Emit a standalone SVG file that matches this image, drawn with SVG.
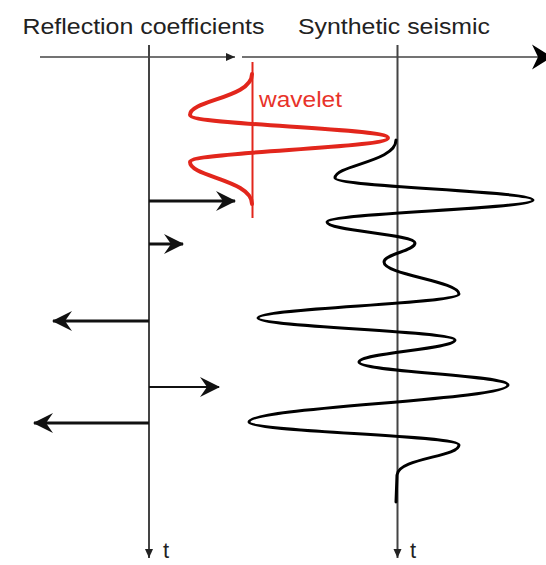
<svg xmlns="http://www.w3.org/2000/svg" width="546" height="565" viewBox="0 0 546 565">
<style>
.lbl{font-family:"Liberation Sans",Arial,sans-serif;font-size:22px;fill:#222}
.red{fill:#e8332a}
.axis{stroke:#444;stroke-width:2;fill:none}
.rc{stroke:#111;stroke-width:3;fill:none}
.trace{stroke:#000;stroke-width:3;fill:none;stroke-linejoin:round;stroke-linecap:round}
.wav{stroke:#e2261c;stroke-width:4;fill:none;stroke-linecap:round}
</style>
<defs>
<marker id="rcHead" markerUnits="userSpaceOnUse" markerWidth="24" markerHeight="24" viewBox="-22 -12 24 24" refX="0" refY="0" orient="auto">
<path d="M1,0 L-19,-10 L-12,0 L-19,10 Z" fill="#111"/>
</marker>
<marker id="smallHead" markerUnits="userSpaceOnUse" markerWidth="12" markerHeight="12" viewBox="-11 -6 12 12" refX="0" refY="0" orient="auto">
<path d="M0,0 L-9,-4 L-9,4 Z" fill="#222"/>
</marker>
<marker id="bigHead" markerUnits="userSpaceOnUse" markerWidth="24" markerHeight="28" viewBox="-22 -14 24 28" refX="0" refY="0" orient="auto">
<path d="M0,0 L-20,-12.5 L-14,0 L-20,12.5 Z" fill="#000"/>
</marker>
</defs>
<g id="titles">
<text class="lbl" x="22.5" y="34" textLength="242" lengthAdjust="spacingAndGlyphs">Reflection coefficients</text>
<text class="lbl" x="298" y="34" textLength="192" lengthAdjust="spacingAndGlyphs">Synthetic seismic</text>
<text class="lbl" x="163" y="558">t</text>
<text class="lbl" x="410" y="558">t</text>
</g>
<g id="connectors">
<line class="axis" x1="40" y1="57" x2="235" y2="57" style="stroke-width:1.6" marker-end="url(#smallHead)"/>
<line class="axis" x1="242" y1="57" x2="552" y2="57" style="stroke-width:1.6" marker-end="url(#bigHead)"/>
<line class="axis" x1="149" y1="45" x2="149" y2="558" marker-end="url(#smallHead)"/>
<line class="axis" x1="397.5" y1="45" x2="397.5" y2="558" marker-end="url(#smallHead)"/>
<line class="rc" x1="149" y1="201" x2="235" y2="201" marker-end="url(#rcHead)"/>
<line class="rc" x1="149" y1="244" x2="183" y2="244" marker-end="url(#rcHead)"/>
<line class="rc" x1="149" y1="321" x2="53" y2="321" marker-end="url(#rcHead)"/>
<line class="rc" x1="149" y1="387" x2="219" y2="387" style="stroke-width:2.2" marker-end="url(#rcHead)"/>
<line class="rc" x1="149" y1="423" x2="34" y2="423" marker-end="url(#rcHead)"/>
</g>
<g id="wavelet">
<line x1="252.5" y1="62" x2="252.5" y2="218" stroke="#e2261c" stroke-width="2"/>
<path class="wav" d="M252,74 C252,98 190,100 190,115 C190,125 388,128 388,138 C388,148 190,152 190,162 C190,177 252,180 252,204"/>
<text class="lbl red" x="259" y="107" textLength="83" lengthAdjust="spacingAndGlyphs">wavelet</text>
</g>
<g id="synthetic-trace">
<path class="trace" d="M396,140 C396,162 335,165 335,178 C335,187 533,191 533,200 C533,209 327,213 327,222 C327,231 415,234 415,243 C415,251 384,254 384,262 C384,275 459,281 459,294 C459,304 258,308 258,318 C258,327 455,331 455,340 C455,349 359,353 359,362 C359,372 508,375 508,385 C508,400 249,407 249,422 C249,432 459,435 459,445 C459,457 398,458 397,475 L396,502"/>
</g>
</svg>
